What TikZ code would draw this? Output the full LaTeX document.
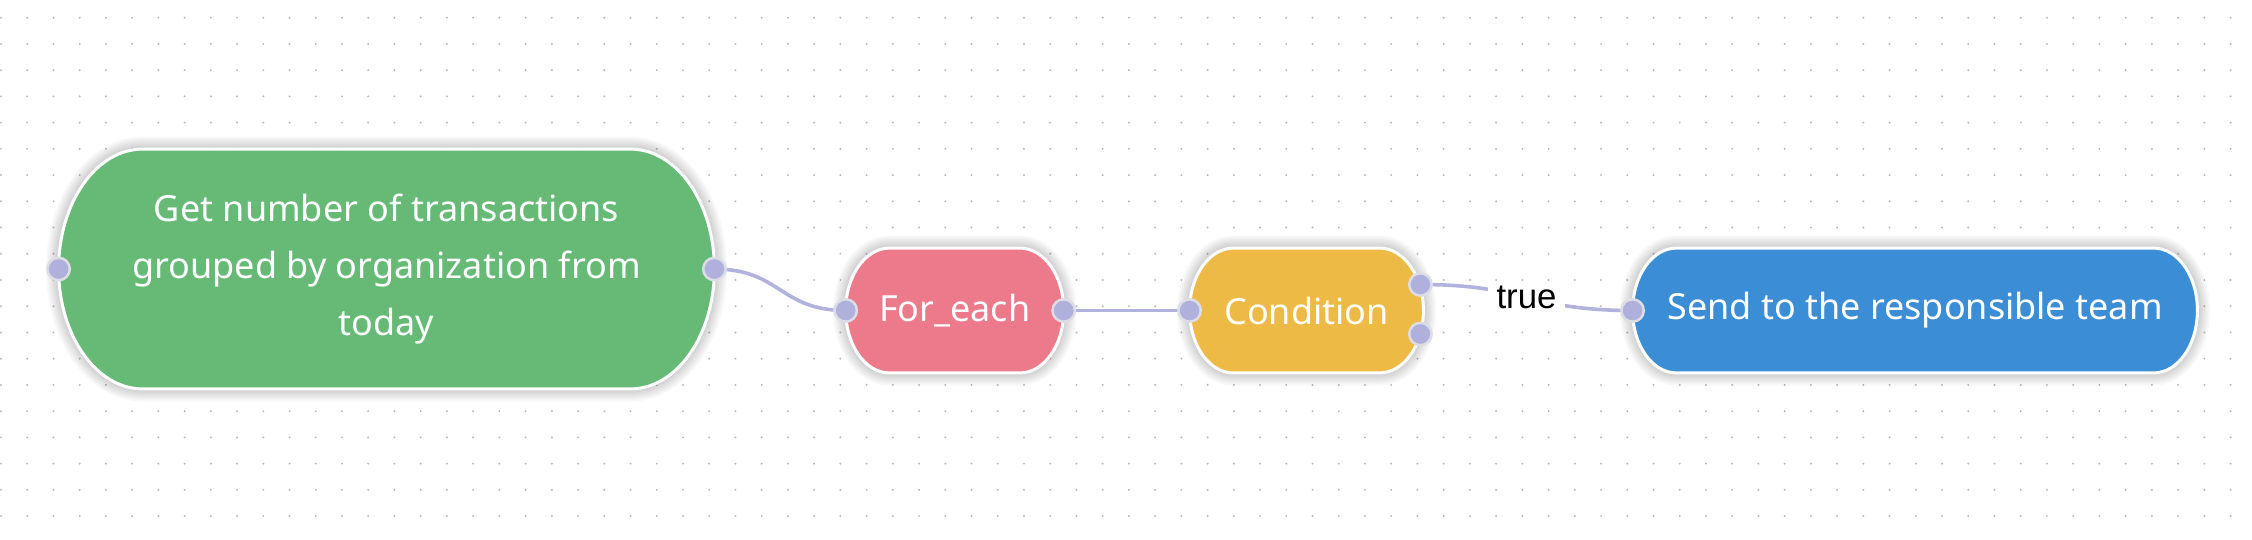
\documentclass[tikz,border=0pt]{standalone}
\usepackage{fontspec}
\setmainfont{Noto Sans}
\newfontfamily\lblfont{Liberation Sans}
\usetikzlibrary{backgrounds,calc}

\definecolor{getgreen}{RGB}{102,186,118}
\definecolor{eachpink}{RGB}{236,122,139}
\definecolor{condyellow}{RGB}{238,186,70}
\definecolor{sendblue}{RGB}{59,141,214}
\definecolor{portfill}{RGB}{176,176,220}
\definecolor{portring}{RGB}{221,221,230}
\definecolor{wirecol}{RGB}{178,178,222}
\definecolor{dotgray}{RGB}{185,185,185}

\tikzset{
  task/.style={shape=rectangle, inner sep=0pt, text=white, align=center,
    font=\fontsize{18}{28.5}\selectfont},
  pillshape/.style={draw=white, line width=1.5pt},
  pillshadow/.style={draw=black, opacity=0.028, line join=round},
  port/.style={circle, fill=portfill, draw=portring, line width=1.25pt,
    minimum size=11.2pt, inner sep=0pt},
  wire/.style={draw=wirecol, line width=1.8pt},
  lbl/.style={fill=white, inner xsep=4.2pt, inner ysep=2pt, text=black,
    font=\lblfont\fontsize{17.4}{20}\selectfont},
}

% pill with half-ellipse ends and a soft shadow, behind the node text
\newcommand\pill[2]{%
  \begin{scope}[on background layer]
    \foreach \k in {1,...,7}{%
      \path[pillshadow, line width=\k*1.8pt, xshift=1.5pt, yshift=-5pt]
        let \p1=(#1.north west), \p2=(#1.south east),
        \n1={(\y1-\y2)/2}, \n2={0.7*\n1} in
        (\x1+\n2,\y1) -- (\x2-\n2,\y1)
        arc[start angle=90, end angle=-90, x radius=\n2, y radius=\n1]
        -- (\x1+\n2,\y2)
        arc[start angle=270, end angle=90, x radius=\n2, y radius=\n1]
        -- cycle;
    }
    \path[pillshape, fill=#2] let \p1=(#1.north west), \p2=(#1.south east),
      \n1={(\y1-\y2)/2}, \n2={0.7*\n1} in
      (\x1+\n2,\y1) -- (\x2-\n2,\y1)
      arc[start angle=90, end angle=-90, x radius=\n2, y radius=\n1]
      -- (\x1+\n2,\y2)
      arc[start angle=270, end angle=90, x radius=\n2, y radius=\n1]
      -- cycle;
  \end{scope}}

\begin{document}
\begin{tikzpicture}[x=0.5pt, y=-0.5pt]
  \useasboundingbox (0,0) rectangle (2252,540);
  \begin{scope}[on background layer]
    \fill[white] (0,0) rectangle (2252,540);
    \foreach \i in {0,...,85}{%
      \foreach \j in {0,...,19}{%
        \fill[dotgray] (1+\i*26.23, 17.7+\j*26.23) circle (0.55pt);
      }
    }
  \end{scope}

  % tasks
  \node[task, minimum width=327.5pt, minimum height=119.5pt] (get) at (386.5,269)
    {Get number of transactions\\grouped by organization from\\today};
  \node[task, minimum width=108.6pt, minimum height=62pt] (each) at (954.7,310.5) {For\_each};
  \node[task, minimum width=116.5pt, minimum height=62pt] (cond) at (1306.5,310.5) {Condition};
  \node[task, minimum width=282pt, minimum height=62pt] (send) at (1915,310.5) {Send to the responsible team};

  \pill{get}{getgreen}
  \pill{each}{eachpink}
  \pill{cond}{condyellow}
  \pill{send}{sendblue}

  % ports
  \coordinate (get-in) at (get.west);
  \coordinate (get-out) at (get.east);
  \coordinate (each-in) at (each.west);
  \coordinate (each-out) at (each.east);
  \coordinate (cond-in) at (cond.west);
  \coordinate (cond-true) at ($(cond.east)+(-3,-26)$);
  \coordinate (cond-false) at ($(cond.east)+(-3,23.5)$);
  \coordinate (send-in) at (send.west);

  \path[wire] (get-out) .. controls +(66,0) and +(-66,0) .. (each-in);
  \path[wire] (each-out) -- (cond-in);
  \path[wire] (cond-true) .. controls +(105,0) and +(-105,0) .. (send-in)
    node[lbl, midway] {true};

  \foreach \p in {get-in,get-out,each-in,each-out,cond-in,cond-true,cond-false,send-in}
    \node[port] (port-\p) at (\p) {};
\end{tikzpicture}
\end{document}
